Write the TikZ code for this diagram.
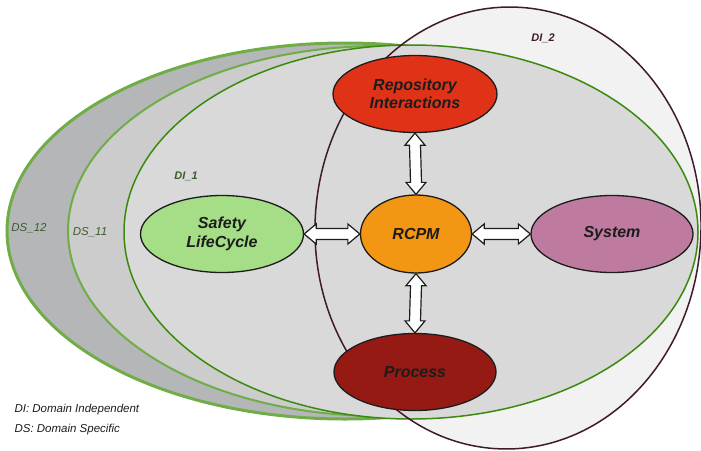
\documentclass[tikz,border=0pt]{standalone}
\usepackage{fontspec}
\setmainfont{Liberation Sans}
\usetikzlibrary{shapes.geometric,calc}
\definecolor{dstwelvefill}{HTML}{B5B6B8}
\definecolor{dselevenfill}{HTML}{CCCCCC}
\definecolor{dionefill}{HTML}{D9D9D9}
\definecolor{ditwofill}{HTML}{F2F2F2}
\definecolor{lgreen}{HTML}{70AD47}
\definecolor{dgreen}{HTML}{3A8A0E}
\definecolor{dimaroon}{HTML}{3F1B2B}
\definecolor{cRep}{HTML}{E03216}
\definecolor{cRcpm}{HTML}{F39613}
\definecolor{cSys}{HTML}{BF7B9F}
\definecolor{cProc}{HTML}{961A14}
\definecolor{cSaf}{HTML}{A5DE86}
\definecolor{lblgreen}{HTML}{3E5B2E}
\definecolor{txtdark}{HTML}{1C1C1C}
\newcommand\harrowdraw[2]{\draw[blockarrow] (#1) -- ++(12,-10) -- ++(0,4.5) -- ($(#2)+(-12,-5.5)$) -- ++(0,-4.5) -- (#2) -- ++(-12,10) -- ++(0,-4.5) -- ($(#1)+(12,5.5)$) -- ++(0,4.5) -- cycle;}
\newcommand\varrowdraw[2]{\draw[blockarrow] (#1) -- ++(-10,12) -- ++(4.5,0) -- ($(#2)+(-5.5,-12)$) -- ++(-4.5,0) -- (#2) -- ++(10,-12) -- ++(-4.5,0) -- ($(#1)+(5.5,12)$) -- ++(4.5,0) -- cycle;}
\tikzset{
  comp/.style={ellipse, draw=txtdark, line width=1.3pt, inner sep=0pt, minimum height=77pt, align=center,
    text=txtdark, font=\bfseries\itshape\fontsize{16}{18.5}\selectfont},
  blockarrow/.style={draw=txtdark, fill=white, line width=1.2pt, line join=miter},
  regionlbl/.style={font=\itshape\fontsize{11.5}{13}\selectfont, text=lblgreen},
  legendlbl/.style={anchor=west, font=\itshape\fontsize{11.5}{13}\selectfont, text=txtdark}
}
\begin{document}
\begin{tikzpicture}[x=1pt,y=-1pt]
\useasboundingbox (0,0) rectangle (701,450);
% DI_2 fill (underneath)
\fill[ditwofill, rotate around={-2:(508,228)}] (508,228) ellipse [x radius=193, y radius=221];
% DS_12
\draw[fill=dstwelvefill, draw=lgreen, line width=3pt] (345,231) ellipse [x radius=338, y radius=188];
% DS_11
\draw[fill=dselevenfill, draw=lgreen, line width=2pt] (380,231) ellipse [x radius=312, y radius=185];
% DI_1
\draw[fill=dionefill, draw=dgreen, line width=1.5pt] (411,232) ellipse [x radius=287, y radius=187];
% DI_2 outline
\draw[dimaroon, line width=1.5pt, rotate around={-2:(508,228)}] (508,228) ellipse [x radius=193, y radius=221];

% region labels
\node[font=\bfseries\itshape\fontsize{11}{13}\selectfont, text=dimaroon] (ditwolbl) at (543,38) {DI\_2};
\node[font=\bfseries\itshape\fontsize{11}{13}\selectfont, text=lblgreen] (dionelbl) at (186,176) {DI\_1};
\node[regionlbl] (dstwelvelbl) at (29,228) {DS\_12};
\node[regionlbl] (dselevenlbl) at (90,232) {DS\_11};

% components
\node[comp, fill=cRep, minimum width=164pt] (rep) at (415,94) {Repository\\Interactions};
\node[comp, fill=cRcpm, minimum width=111pt, minimum height=78pt] (rcpm) at (416,234) {RCPM};
\node[comp, fill=cSys, minimum width=162pt] (sys) at (612,234) {System};
\node[comp, fill=cProc, minimum width=162pt] (proc) at (415,372) {Process};
\node[comp, fill=cSaf, minimum width=163pt] (saf) at (222,234) {Safety\\LifeCycle};

% connectors
\varrowdraw{rep.south}{rcpm.north}
\varrowdraw{rcpm.south}{proc.north}
\harrowdraw{saf.east}{rcpm.west}
\harrowdraw{rcpm.east}{sys.west}

% legend
\node[legendlbl] (legdi) at (11,410) {DI: Domain Independent};
\node[legendlbl] (legds) at (11,430) {DS: Domain Specific};
\end{tikzpicture}
\end{document}
